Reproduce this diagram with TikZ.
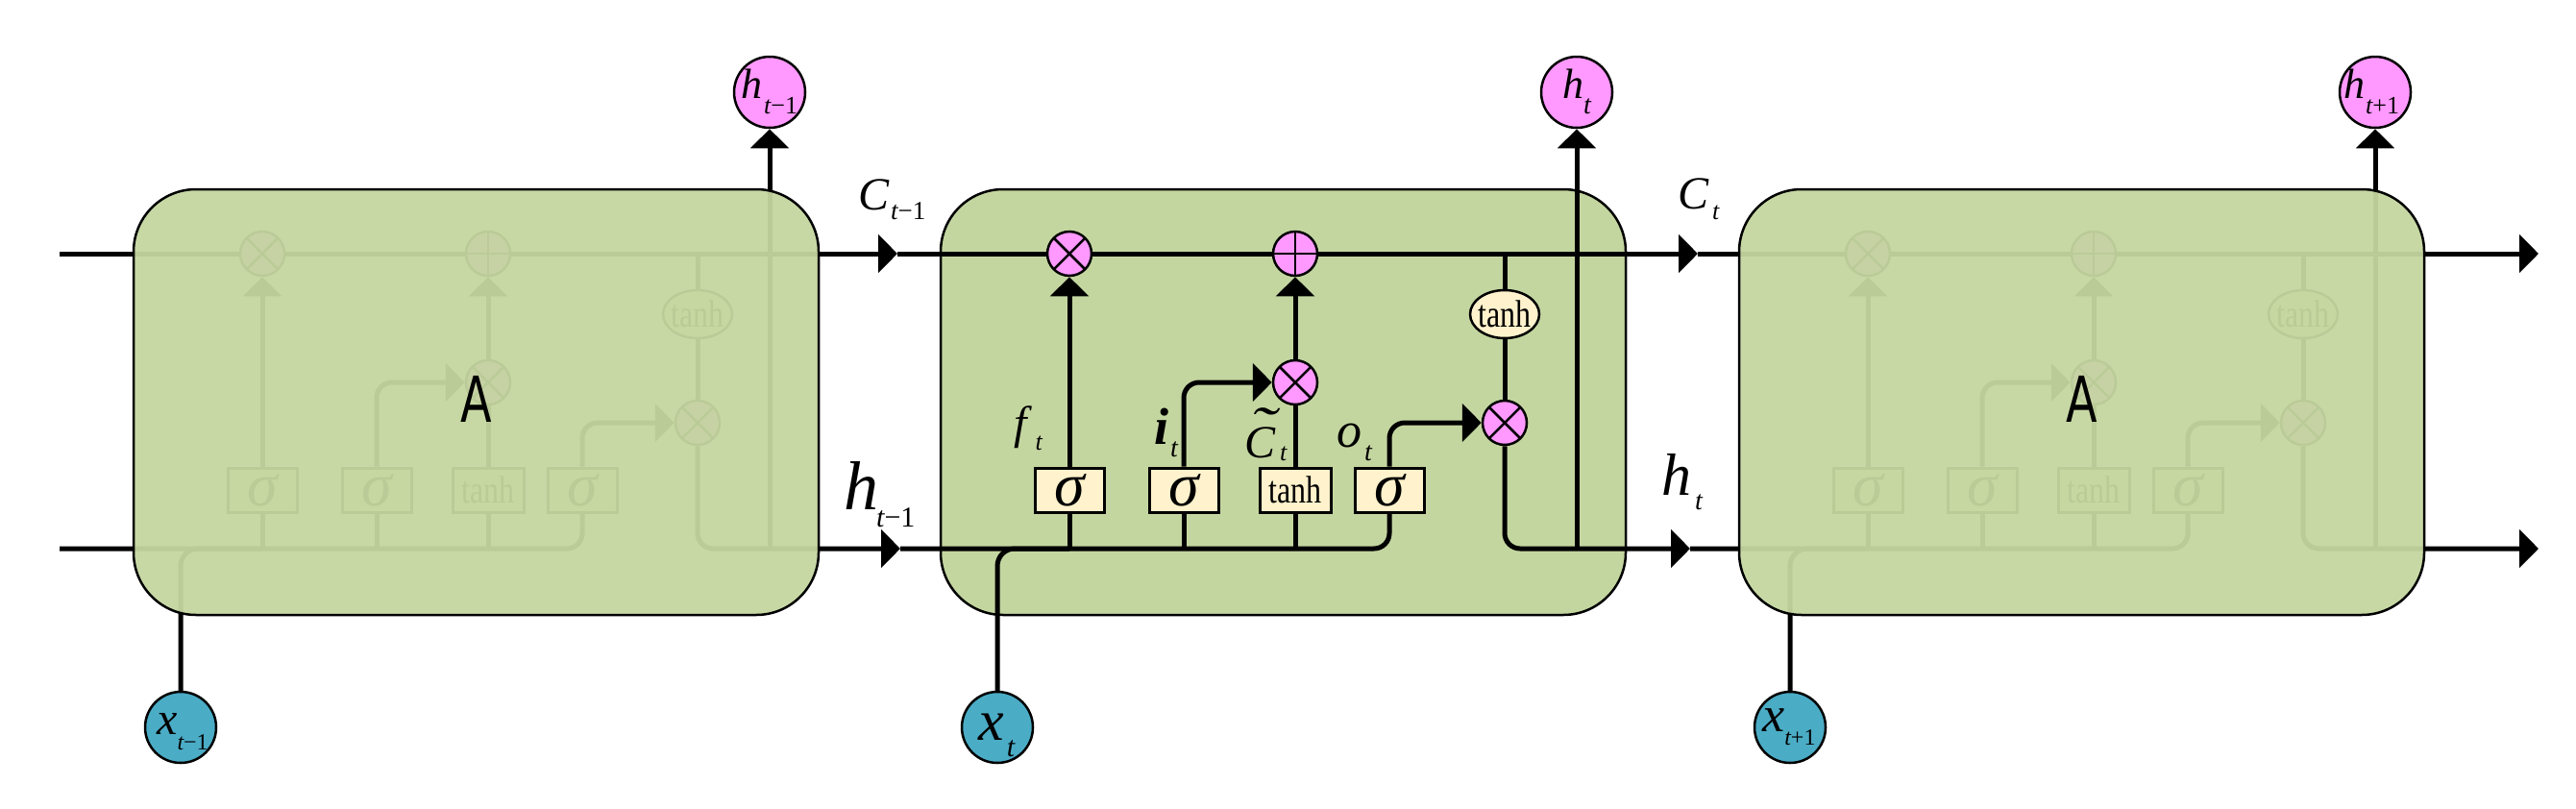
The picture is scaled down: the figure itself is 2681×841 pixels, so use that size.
\documentclass[tikz,border=0pt]{standalone}
\usepackage{graphicx}
\usepackage{fontspec}
\setmainfont{Liberation Serif}
\newfontfamily\asans{DejaVu Sans}
\usetikzlibrary{arrows.meta,shapes.geometric}
\definecolor{cellgreen}{RGB}{196,214,160}
\definecolor{gatepink}{RGB}{255,153,255}
\definecolor{gatecream}{RGB}{255,242,204}
\definecolor{inteal}{RGB}{75,172,198}
\pgfdeclarelayer{back}\pgfdeclarelayer{lines}\pgfdeclarelayer{front}
\pgfsetlayers{back,lines,main,front}
\newcommand\sublab[6]{{\fontsize{#1}{#1}\selectfont\itshape #2}\kern#3pt\raisebox{-#6pt}{\fontsize{#4}{#4}\selectfont\itshape #5}}
\newcommand\mone{\upshape\char"2212 1}
\newcommand\pone{\upshape+1}
\newcommand\sig{{\fontsize{64}{64}\selectfont\itshape σ}}
\newcommand\tanhtxt{\scalebox{0.8}[1]{\fontsize{40}{40}\selectfont tanh}}
\tikzset{
  wire/.style={line width=5pt},
  tipd/.style={-{Triangle[length=20pt,width=39pt]}},
  opx/.style={circle, draw, line width=2.5pt, fill=gatepink, minimum size=46pt, inner sep=0pt,
    path picture={\draw[line width=2.5pt] (path picture bounding box.north west) -- (path picture bounding box.south east)
      (path picture bounding box.north east) -- (path picture bounding box.south west);}},
  opplus/.style={circle, draw, line width=2.5pt, fill=gatepink, minimum size=46pt, inner sep=0pt,
    path picture={\draw[line width=2.5pt] (path picture bounding box.north) -- (path picture bounding box.south)
      (path picture bounding box.east) -- (path picture bounding box.west);}},
  gate/.style={rectangle, draw, line width=3pt, fill=gatecream, minimum width=72pt, minimum height=46pt, inner sep=0pt},
  tanhell/.style={ellipse, draw, line width=2.5pt, fill=gatecream, minimum width=72pt, minimum height=50pt, inner sep=0pt},
  hcirc/.style={circle, draw, line width=2.5pt, fill=gatepink, minimum size=74pt, inner sep=0pt},
  xcirc/.style={circle, draw, line width=2.5pt, fill=inteal, minimum size=74pt, inner sep=0pt},
  cellbox/.style={rectangle, draw, line width=2.5pt, rounded corners=65pt, minimum width=713pt, minimum height=443pt, inner sep=0pt},
  lab/.style={inner sep=0pt, anchor=base west},
}
\begin{document}
\begin{tikzpicture}[x=1pt,y=-1pt]
\useasboundingbox (0,0) rectangle (2681,841);
\begin{pgfonlayer}{back}
  \node[cellbox, fill=cellgreen] (box2) at (1335.5,418.5) {};
\end{pgfonlayer}
\foreach \i/\L/\xin in {1/139/188, 2/979/1038, 3/1810/1863} {
  \node[opx] (fx\i) at (\L+134,264) {};
  \node[opplus] (ad\i) at (\L+369,264) {};
  \node[opx] (ix\i) at (\L+369,398) {};
  \node[opx] (ox\i) at (\L+587,440) {};
  \node[tanhell] (th\i) at (\L+587,327) {\makebox[40pt]{\tanhtxt}};
  \node[gate] (sf\i) at (\L+134,510) {\sig};
  \node[gate] (si\i) at (\L+253,510) {\sig};
  \node[gate, minimum width=74pt] (sc\i) at (\L+369,510) {\tanhtxt};
  \node[gate] (so\i) at (\L+467,510) {\sig};
  \node[xcirc] (xin\i) at (\xin,757) {};
  \node[hcirc] (hout\i) at (\L+662,96) {};
  \coordinate (hj\i) at (\L+662,571);
  \coordinate (cj\i) at (\L+587,264);
  \begin{pgfonlayer}{lines}
    \draw[wire,tipd] (sf\i.north) -- (fx\i.south);
    \draw[wire] (sf\i.south) -- (sf\i.south |- hj\i);
    \draw[wire] (si\i.south) -- (si\i.south |- hj\i);
    \draw[wire] (sc\i.south) -- (sc\i.south |- hj\i);
    \draw[wire,tipd,rounded corners=16pt] (si\i.north) |- (ix\i.west);
    \draw[wire] (sc\i.north) -- (ix\i.south);
    \draw[wire,tipd] (ix\i.north) -- (ad\i.south);
    \draw[wire,tipd,rounded corners=16pt] (so\i.north) |- (ox\i.west);
    \draw[wire] (cj\i) -- (th\i.north);
    \draw[wire] (th\i.south) -- (ox\i.north);
    \draw[wire,tipd] (hj\i) -- (hout\i.south);
    \draw[wire,rounded corners=18pt] (xin\i.north) |- (sf\i.south |- hj\i);
  \end{pgfonlayer}
}
\coordinate (cs) at (62,264);
\coordinate (ca1) at (934,264);
\coordinate (ca2) at (1767,264);
\coordinate (ce) at (2642,264);
\coordinate (hs) at (62,571);
\coordinate (ha1) at (937,571);
\coordinate (ha2) at (1759,571);
\coordinate (he) at (2642,571);
\begin{pgfonlayer}{lines}
  \draw[wire,tipd] (cs) -- (ca1);
  \draw[wire,tipd] (ca1) -- (ca2);
  \draw[wire,tipd] (ca2) -- (ce);
  \draw[wire,rounded corners=16pt] (hs) -| (so1.south);
  \draw[wire,tipd,rounded corners=16pt] (ox1.south) |- (ha1);
  \draw[wire,rounded corners=16pt] (ha1) -| (so2.south);
  \draw[wire,tipd,rounded corners=16pt] (ox2.south) |- (ha2);
  \draw[wire,rounded corners=16pt] (ha2) -| (so3.south);
  \draw[wire,tipd,rounded corners=16pt] (ox3.south) |- (he);
\end{pgfonlayer}
% labels of the middle cell
\node[lab] (lf) at (1055,456) {\sublab{48}{f}{9}{26}{t}{12}};
\node[lab] (li) at (1201,462) {\sublab{54}{\bfseries i}{2}{28}{t}{13}};
\node[lab] (lct) at (1295,476) {\sublab{48}{\rlap{\kern5pt\raisebox{13pt}{\scalebox{1.7}[1.2]{\char"02DC}}}C}{5}{26}{t}{3}};
\node[lab] (lo) at (1391,465) {\sublab{52}{o}{3}{28}{t}{14}};
\node[lab] (lc0) at (893,218) {\sublab{48}{C}{2}{27}{t\mone}{10}};
\node[lab] (lc1) at (1746,217) {\sublab{48}{C}{4}{26}{t}{11}};
\node[lab] (lh0) at (878,530) {\sublab{72}{h}{-2}{30}{t\mone}{18}};
\node[lab] (lh1) at (1729,515) {\sublab{62}{h}{4}{28}{t}{15}};
% circle labels
\node[lab] (lho1) at (771,102) {\sublab{44}{h}{2}{26}{t\mone}{16}};
\node[lab] (lho2) at (1626,102) {\sublab{44}{h}{0}{28}{t}{16}};
\node[lab] (lho3) at (2439,102) {\sublab{44}{h}{1}{26}{t\pone}{16}};
\node[lab] (lx1) at (163,764) {\sublab{48}{x}{0}{24}{t\mone}{16}};
\node[lab] (lx2) at (1018,770) {\sublab{60}{x}{3}{30}{t}{17}};
\node[lab] (lx3) at (1834,761) {\sublab{52}{x}{0}{24}{t\pone}{14}};
% ghosted side cells
\begin{pgfonlayer}{front}
  \node[cellbox, fill=cellgreen, fill opacity=0.95] (box1) at (495.5,418.5) {};
  \node[cellbox, fill=cellgreen, fill opacity=0.95] (box3) at (2166.5,418.5) {};
  \node (A1) at (495.5,415) {\scalebox{0.72}[1]{\fontsize{66}{66}\asans A}};
  \node (A3) at (2166.5,415) {\scalebox{0.72}[1]{\fontsize{66}{66}\asans A}};
\end{pgfonlayer}
\end{tikzpicture}
\end{document}
